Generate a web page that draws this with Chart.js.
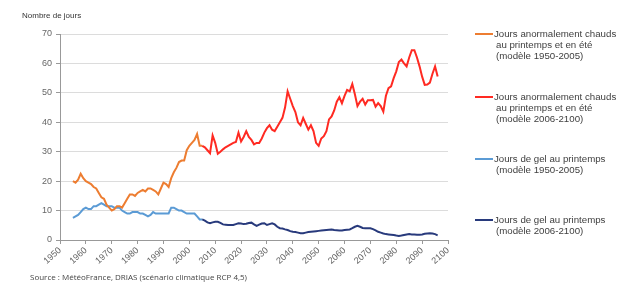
<!DOCTYPE html>
<html>
<head>
<meta charset="utf-8">
<script src="https://cdn.jsdelivr.net/npm/chart.js@4.4.1/dist/chart.umd.min.js"></script>
<style>
  html, body { margin: 0; padding: 0; background: #fff; }
  #wrap { width: 623px; height: 286px; position: relative; }
</style>
</head>
<body>
<div id="wrap"><canvas id="myChart" width="623" height="286"></canvas></div>
<script>
// years of each model run
const histStart = 1955;
const projStart = 2006;

// jours anormalement chauds (modele 1950-2005)
const chaudHist = [
  20, 19.5, 20.5, 22.5, 21, 20, 19.5, 19, 18, 17.5,
  16, 14.5, 14, 12, 11, 10, 10.5, 11.5, 11.5, 11,
  12.5, 14, 15.5, 15.5, 15, 16, 16.5, 17, 16.5, 17.5,
  17.5, 17, 16.5, 15.5, 17.5, 19.5, 19, 18, 21, 23,
  24.5, 26.5, 27, 27, 30.5, 32, 33, 34, 36, 32,
  32
];
// jours anormalement chauds (modele 2006-2100)
const chaudProj = [
  31.5, 30.5, 29.5, 35.5, 33, 29.3, 30, 30.8, 31.5, 32,
  32.5, 33, 33.3, 36.5, 33.5, 35, 37, 35, 34, 32.5,
  33, 33, 34.5, 36.5, 38, 39, 37.5, 37, 38.5, 40,
  41.5, 45, 50.5, 48, 45.5, 43.5, 40, 39, 41.5, 39.5,
  37.5, 39, 37, 33, 32, 34.5, 35.3, 37, 41, 42,
  44, 47, 48.5, 46.5, 49, 51, 50.5, 53, 49.5, 45.5,
  47, 48, 46, 47.5, 47.5, 47.6, 45.3, 46.5, 45.5, 43.6,
  49, 51.6, 52.2, 55, 57.3, 60.5, 61.3, 60, 59, 62,
  64.5, 64.5, 62, 59, 55.5, 52.7, 52.8, 53.5, 56.5, 59,
  55.6
];
// jours de gel au printemps (modele 1950-2005)
const gelHist = [
  7.5, 8, 8.5, 9.5, 10.5, 11, 10.5, 10.5, 11.5, 11.5,
  12, 12.5, 12, 11.5, 11.5, 11.5, 11, 11, 11, 10,
  9.5, 9, 9, 9.5, 9.5, 9.5, 9, 9, 8.5, 8,
  8.5, 9.5, 9, 9, 9, 9, 9, 9, 11, 11,
  10.5, 10, 10, 9.5, 9, 9, 9, 9, 8, 7,
  7
];
// jours de gel au printemps (modele 2006-2100)
const gelProj = [
  6.6, 6, 5.7, 6, 6.2, 6.2, 5.8, 5.3, 5.2, 5.1,
  5.1, 5.1, 5.4, 5.7, 5.6, 5.4, 5.5, 5.8, 5.9, 5.3,
  4.8, 5.2, 5.6, 5.7, 5.1, 5.4, 5.7, 5.3, 4.5, 4,
  3.9, 3.6, 3.4, 3, 2.8, 2.7, 2.5, 2.3, 2.3, 2.5,
  2.7, 2.8, 2.9, 3, 3.1, 3.2, 3.3, 3.4, 3.5, 3.6,
  3.4, 3.3, 3.2, 3.2, 3.4, 3.5, 3.6, 4, 4.5, 4.8,
  4.5, 4.1, 4, 4, 4, 3.7, 3.3, 2.8, 2.5, 2.2,
  2, 1.9, 1.8, 1.7, 1.5, 1.4, 1.5, 1.7, 1.9, 2,
  1.9, 1.9, 1.8, 1.8, 1.9, 2.1, 2.2, 2.3, 2.2, 2,
  1.6
];

const legendLabels = [
  ["Jours anormalement chauds", "au printemps et en été", "(modèle 1950-2005)"],
  ["Jours anormalement chauds", "au printemps et en été", "(modèle 2006-2100)"],
  ["Jours de gel au printemps", "(modèle 1950-2005)"],
  ["Jours de gel au printemps", "(modèle 2006-2100)"]
];
const yTitle = "Nombre de jours";
const sourceText = "Source : MétéoFrance, DRIAS (scénario climatique RCP 4,5)";

function toPoints(start, values) {
  return values.map((v, i) => ({ x: start + i, y: v }));
}
// projection line picks up where the 1950-2005 run stops
function withBridge(histVals, projVals) {
  const last = { x: histStart + histVals.length - 1, y: histVals[histVals.length - 1] };
  return [last].concat(toPoints(projStart, projVals));
}

const colors = ["#ed7d31", "#ff2a22", "#5b9bd5", "#283a7c"];

// legend + texts around the plot
const extras = {
  id: "extras",
  afterDraw(chart) {
    const c = chart.ctx;
    c.save();
    c.font = "8px 'Liberation Sans', Arial, sans-serif";
    c.fillStyle = "#333";
    c.textBaseline = "middle";
    c.fillText(yTitle, 22, 16);
    c.font = "8px 'Open Sans', sans-serif";
    c.fillStyle = "#444";
    c.fillText(sourceText, 30, 278);

    const tops = [34, 97, 159, 220];
    c.font = "9.7px 'Liberation Sans', Arial, sans-serif";
    legendLabels.forEach((lines, i) => {
      const y = tops[i];
      c.strokeStyle = colors[i];
      c.lineWidth = 2;
      c.beginPath();
      c.moveTo(475, y);
      c.lineTo(493, y);
      c.stroke();
      c.fillStyle = "#404040";
      lines.forEach((t, j) => {
        c.fillText(t, j === 0 ? 494 : 496, y + j * 11.4);
      });
    });
    c.restore();
  }
};

const ctx = document.getElementById("myChart").getContext("2d");
const myChart = new Chart(ctx, {
  type: "line",
  data: {
    datasets: [
      { label: legendLabels[1].join(" "), data: withBridge(chaudHist, chaudProj), borderColor: colors[1] },
      { label: legendLabels[0].join(" "), data: toPoints(histStart, chaudHist), borderColor: colors[0] },
      { label: legendLabels[3].join(" "), data: withBridge(gelHist, gelProj), borderColor: colors[3] },
      { label: legendLabels[2].join(" "), data: toPoints(histStart, gelHist), borderColor: colors[2] }
    ]
  },
  options: {
    responsive: false,
    animation: false,
    elements: {
      point: { radius: 0 },
      line: { borderWidth: 2, tension: 0 }
    },
    layout: { padding: { top: 34, right: 175, bottom: 0, left: 0 } },
    plugins: {
      legend: { display: false },
      tooltip: { enabled: false }
    },
    scales: {
      x: {
        type: "linear",
        min: 1950,
        max: 2100,
        afterFit: (s) => { s.height = 46; },
        grid: { drawOnChartArea: false, drawTicks: true, tickLength: 4, color: "#999" },
        border: { color: "#999" },
        ticks: {
          stepSize: 10,
          minRotation: 42,
          maxRotation: 42,
          padding: 1,
          color: "#666",
          font: { family: "'Liberation Sans', Arial, sans-serif", size: 9 },
          callback: (v) => String(v)
        }
      },
      y: {
        min: 0,
        max: 70,
        afterFit: (s) => { s.width = 60; },
        grid: { color: "#dcdcdc", tickLength: 4, tickColor: "#999" },
        border: { color: "#999" },
        ticks: {
          stepSize: 10,
          padding: 4,
          color: "#666",
          font: { family: "'Liberation Sans', Arial, sans-serif", size: 9 }
        }
      }
    }
  },
  plugins: [extras]
});
</script>
</body>
</html>
